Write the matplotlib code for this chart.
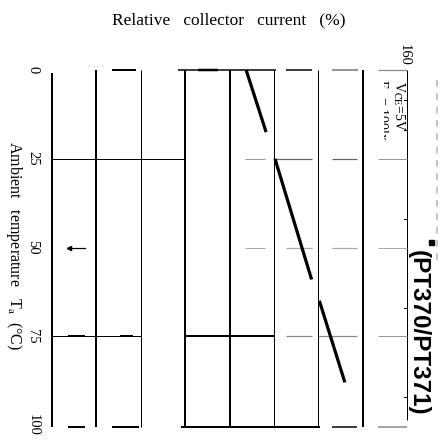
import matplotlib
matplotlib.use("Agg")
import matplotlib.pyplot as plt
from matplotlib.patches import Rectangle

# ---- data ----
temp_ticks = [0, 25, 50, 75, 100]            # ambient temperature (deg C)
temp_labels = ["0", "25", "50", "75", "100"]
current_grid = [0, 20, 40, 60, 80, 100, 120, 140, 160]   # relative collector current (%)
grid_weight = [2, 2, 1, 2, 2, 1, 1, 2, 1]

# relative collector current vs ambient temperature (runs of the printed curve)
curve_temp = [0, 17.5, 25, 59, 65, 88]
curve_current = [87.5, 96.5, 100.5, 117, 120.5, 132]

# horizontal rule pieces: (temperature, current from, current to, colour, width px)
rules = [
    (0, 27, 38, "black", 2), (0, 57, 101, "black", 1.5), (0, 66, 75, "black", 2.5),
    (0, 105.5, 117, "black", 1.5), (0, 126, 138, "#777777", 1.5), (0, 147, 160, "#888888", 1.2),
    (25, 0, 60, "black", 1), (25, 87, 96, "#999999", 1), (25, 101, 117, "#666666", 1.2),
    (25, 126, 137.5, "#666666", 1.2), (25, 147, 160, "#999999", 1),
    (50, 87, 96, "#aaaaaa", 1), (50, 105.5, 117, "#aaaaaa", 1.2),
    (50, 126, 137.5, "#aaaaaa", 1.2), (50, 147, 160, "#aaaaaa", 1),
    (75, 0, 40, "black", 1), (75, 7, 15, "black", 2), (75, 30.5, 36.5, "black", 2),
    (75, 60, 100, "black", 2), (75, 105.5, 117, "#888888", 1.2),
    (75, 120, 137.5, "#888888", 1.2), (75, 147, 160, "#999999", 1),
    (100.5, 7, 15, "black", 2), (100.5, 27, 39, "black", 2), (100.5, 58, 121, "black", 2),
    (100.5, 126, 137.5, "black", 1.5), (100.5, 147, 160, "#888888", 1.5),
]

PX = 0.72  # points per pixel at 100 dpi
plt.rcParams["mathtext.fontset"] = "stix"

fig = plt.figure(figsize=(4.42, 4.42), dpi=100)
ax = fig.add_axes([52 / 442, 1 - 425 / 442, 355 / 442, 355 / 442])
ax.set_xlim(0, 160)
ax.set_ylim(100, 0)
ax.axis("off")

# vertical grid
for c, w in zip(current_grid, grid_weight):
    t0 = 0.8 if c == 0 else 0
    t1 = 98.5 if c == 160 else 100.5
    ax.plot([c, c], [t0, t1], color="black", lw=w * PX, solid_capstyle="butt", clip_on=False)

# small ticks on the right frame
for t in [8.5, 17, 42, 67, 92]:
    ax.plot([158.8, 160], [t, t], color="black", lw=0.7, clip_on=False)

# horizontal rules
for t, c0, c1, col, w in rules:
    ax.plot([c0, c1], [t, t], color=col, lw=w * PX, solid_capstyle="butt", clip_on=False)

# arrow mark at 50 deg C
ax.plot([7.5, 15], [50, 50], color="black", lw=1.2 * PX, clip_on=False)
ax.plot([7.5], [50], marker="<", ms=3, color="black", clip_on=False)

# characteristic curve
for i in range(0, len(curve_temp), 2):
    ax.plot(curve_current[i:i + 2], curve_temp[i:i + 2], color="black",
            lw=3.2 * PX, solid_capstyle="butt", clip_on=False)

serif = "Liberation Serif"
ytr = ax.get_yaxis_transform()
for t, lab in zip(temp_ticks, temp_labels):
    ax.text(-19 / 355, t, lab, transform=ytr, rotation=-90, ha="center", va="center",
            family=serif, fontsize=10.5)


def fx(x):
    return x / 442


def fy(y):
    return 1 - y / 442


fig.text(fx(229), fy(20), "Relative   collector   current   (%)", ha="center", va="center",
         family=serif, fontsize=12.5)
fig.text(fx(404), fy(55), "160", rotation=-90, ha="center", va="center",
         family=serif, fontsize=10.5)
fig.text(fx(14), fy(246), r"Ambient   temperature   T$_{\rm a}$  (°C)", rotation=-90,
         ha="center", va="center", family=serif, fontsize=11.5)

fig.text(fx(399), fy(106), r"V$_{\rm CE}$=5V", rotation=-90, ha="center", va="center",
         family=serif, fontsize=10)
fig.text(fx(382), fy(110), r"E$_{\rm v}$ = 100lx", rotation=-90, ha="center",
         va="center", family=serif, fontsize=10)
# the lower half of the second condition line is masked by the plot body
fig.add_artist(Rectangle((fx(368), fy(150)), 16 / 442, 70 / 442, facecolor="white",
                         edgecolor="none", transform=fig.transFigure, zorder=5))

fig.text(fx(418), fy(333), "(PT370/PT371)", rotation=-90, ha="center", va="center",
         family="Liberation Sans", weight="bold", fontsize=17.5)

# faint trace of the heading continuing upward
fig.add_artist(plt.Line2D([fx(437), fx(437)], [fy(80), fy(265)], color="#bbbbbb",
                          lw=1.2, ls=(0, (4, 4)), transform=fig.transFigure))
fig.add_artist(Rectangle((fx(429), fy(245)), 5 / 442, 5 / 442, color="black",
                         transform=fig.transFigure))

fig.savefig("out.png", dpi=100, facecolor="white")
